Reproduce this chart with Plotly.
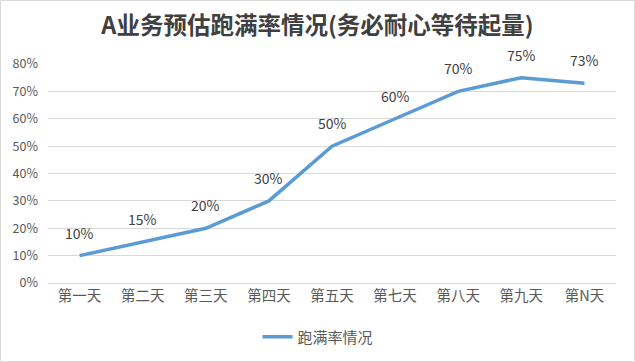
import plotly.graph_objects as go

categories = ["第一天", "第二天", "第三天", "第四天", "第五天", "第七天", "第八天", "第九天", "第N天"]
values = [0.10, 0.15, 0.20, 0.30, 0.50, 0.60, 0.70, 0.75, 0.73]
labels = ["10%", "15%", "20%", "30%", "50%", "60%", "70%", "75%", "73%"]
series_name = "跑满率情况"
title = "A业务预估跑满率情况(务必耐心等待起量)"

W, H = 635, 362
ml, mr, mt, mb = 48, 19, 64, 79
pw, ph = W - ml - mr, H - mt - mb

font_family = "Noto Sans CJK SC, Noto Sans, sans-serif"

fig = go.Figure()
fig.add_trace(go.Scatter(
    x=categories, y=values, mode="lines", name=series_name,
    line=dict(color="#5B9BD5", width=3.5),
    cliponaxis=False,
))

annotations = [
    dict(x=c, y=v, text=t, showarrow=False, yshift=23, xref="x", yref="y",
         font=dict(size=14, color="#404040", family=font_family))
    for c, v, t in zip(categories, values, labels)
]

def px_x(p):
    return (p - ml) / pw

def px_y(p):
    return (H - mb - p) / ph

fig.update_layout(
    width=W, height=H,
    margin=dict(l=ml, r=mr, t=mt, b=mb, autoexpand=False),
    paper_bgcolor="white", plot_bgcolor="white",
    font=dict(family=font_family, color="#595959", size=12),
    title=dict(text="<b>" + title + "</b>", x=0.5, xanchor="center", y=1 - 26 / H, yanchor="middle",
               font=dict(size=23.5, color="#404040", family=font_family)),
    xaxis=dict(range=[-0.5, len(categories) - 0.5], showgrid=False, showline=True,
               linecolor="#D9D9D9", linewidth=1, automargin=False,
               ticks="", tickfont=dict(size=14.5, color="#595959")),
    yaxis=dict(range=[0, 0.8], dtick=0.1, tickformat=".0%", gridcolor="#D9D9D9", gridwidth=1,
               zeroline=False, showline=False, ticks="", ticklabelstandoff=9, automargin=False,
               tickfont=dict(size=12.5, color="#595959")),
    showlegend=True,
    legend=dict(orientation="h", x=px_x(318), xanchor="center", y=px_y(337), yanchor="middle",
                font=dict(size=15, color="#595959")),
    annotations=annotations,
    shapes=[dict(type="rect", xref="paper", yref="paper",
                 x0=px_x(0.5), x1=px_x(W - 0.5), y0=px_y(H - 0.5), y1=px_y(0.5),
                 line=dict(color="#D9D9D9", width=1), layer="below")],
)

fig.write_html("out.html", config={"displayModeBar": False},
               post_script="document.body.style.margin='0';document.body.style.overflow='hidden';")
